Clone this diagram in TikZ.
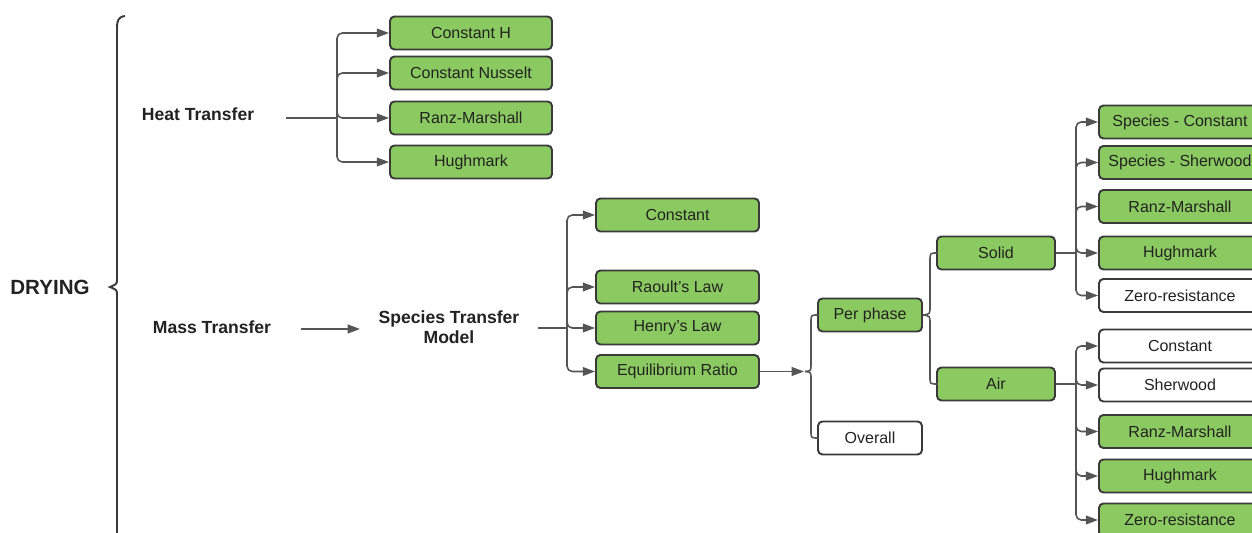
\documentclass[tikz,border=0pt]{standalone}
\usepackage{fontspec}
\setmainfont{Liberation Sans}
\usetikzlibrary{arrows.meta,calc}
\definecolor{boxgreen}{RGB}{139,202,96}
\definecolor{edgegray}{RGB}{58,58,58}
\definecolor{conngray}{RGB}{85,85,85}
\definecolor{txtcol}{RGB}{34,34,34}
\tikzset{
 box/.style={draw=edgegray, line width=1.1pt, rounded corners=2.5pt, minimum height=0.66cm, inner sep=0pt, font=\fontsize{9.1}{11}\selectfont, text=txtcol},
 gbox/.style={box, fill=boxgreen},
 wbox/.style={box, fill=white},
 lbl/.style={font=\bfseries\fontsize{10}{11.4}\selectfont, text=txtcol, align=center},
 link/.style={draw=conngray, line width=0.9pt},
 arr/.style={link, -{Triangle[length=7pt,width=5pt]}},
 hw/.style={minimum width=3.24cm},
 sw/.style={minimum width=3.26cm},
 pw/.style={minimum width=2.08cm},
 aw/.style={minimum width=2.36cm},
 rw/.style={minimum width=3.24cm},
}
\begin{document}
\begin{tikzpicture}[x=0.02cm,y=-0.02cm]
\useasboundingbox (0,0) rectangle (1252,533);
\fill[white] (0,0) rectangle (1252,533);
\begin{scope}
\clip (0,0) rectangle (1252,533);

% DRYING and brace
\node[lbl, font=\bfseries\fontsize{11.7}{14}\selectfont] (dry) at (50,287) {DRYING};
\draw[edgegray, line width=1.1pt] (125,16) .. controls (118,17) and (117,21) .. (117,28) -- (117,279) .. controls (117,284) .. (110,287) .. controls (117,290) .. (117,295) -- (117,545);

% Heat transfer
\node[lbl] (ht) at (198,114) {Heat Transfer};
\coordinate (hs) at (286,118);
\coordinate (hb) at (337,118);
\node[gbox, hw] (h1) at (471,33) {Constant H};
\node[gbox, hw] (h2) at (471,73) {Constant Nusselt};
\node[gbox, hw] (h3) at (471,118) {Ranz-Marshall};
\node[gbox, hw] (h4) at (471,162) {Hughmark};
\draw[link] (hs) -- (hb);
\foreach \n in {h1,h2,h3,h4} \draw[arr, rounded corners=3pt] (hb) |- (\n.west);

% Mass transfer
\node[lbl] (mt) at (212,327) {Mass Transfer};
\coordinate (ms) at (301,329);
\node[lbl] (stm) at (449,327) {Species Transfer\\Model};
\coordinate (me) at (360,329);
\draw[arr] (ms) -- (me);

\coordinate (ss) at (538,328);
\coordinate (sb) at (567,328);
\node[gbox, sw] (c1) at (677.5,215) {Constant};
\node[gbox, sw] (c2) at (677.5,287) {Raoult's Law};
\node[gbox, sw] (c3) at (677.5,328) {Henry's Law};
\node[gbox, sw] (c4) at (677.5,371.5) {Equilibrium Ratio};
\draw[link] (ss) -- (sb);
\foreach \n in {c1,c2,c3,c4} \draw[arr, rounded corners=3pt] (sb) |- (\n.west);

% Per phase / Overall
\node[gbox, pw] (pp) at (870,315) {Per phase};
\node[wbox, pw] (ov) at (870,438) {Overall};
\coordinate (et) at (804,371.5);
\draw[arr] (c4.east) -- (et);
\draw[link] (pp.west) -- (818,315) .. controls (811,315) .. (811,322) -- (811,364) .. controls (811,371) .. (805,371.5);
\draw[link] (805,371.5) .. controls (811,372) .. (811,379) -- (811,431) .. controls (811,438) .. (818,438) -- (ov.west);

% Solid / Air
\node[gbox, aw] (so) at (996,253) {Solid};
\node[gbox, aw] (air) at (996,384) {Air};
\draw[link] (pp.east) .. controls (930,314) .. (930,307) -- (930,261) .. controls (930,253) .. (937,253) -- (so.west);
\draw[link] (pp.east) .. controls (930,316) .. (930,323) -- (930,377) .. controls (930,384) .. (937,384) -- (air.west);

% Solid branch
\coordinate (sob) at (1076,253);
\node[gbox, rw] (r1) at (1180,122) {Species - Constant};
\node[gbox, rw] (r2) at (1180,162.5) {Species - Sherwood};
\node[gbox, rw] (r3) at (1180,206.5) {Ranz-Marshall};
\node[gbox, rw] (r4) at (1180,253) {Hughmark};
\node[wbox, rw] (r5) at (1180,295.5) {Zero-resistance};
\draw[link] (so.east) -- (sob);
\foreach \n in {r1,r2,r3,r4,r5} \draw[arr, rounded corners=3pt] (sob) |- (\n.west);

% Air branch
\coordinate (aib) at (1076,384);
\node[wbox, rw] (a1) at (1180,346) {Constant};
\node[wbox, rw] (a2) at (1180,385) {Sherwood};
\node[gbox, rw] (a3) at (1180,431.5) {Ranz-Marshall};
\node[gbox, rw] (a4) at (1180,476) {Hughmark};
\node[gbox, rw] (a5) at (1180,520) {Zero-resistance};
\draw[link] (air.east) -- (aib);
\foreach \n in {a1,a2,a3,a4,a5} \draw[arr, rounded corners=3pt] (aib) |- (\n.west);

\end{scope}
\end{tikzpicture}
\end{document}
